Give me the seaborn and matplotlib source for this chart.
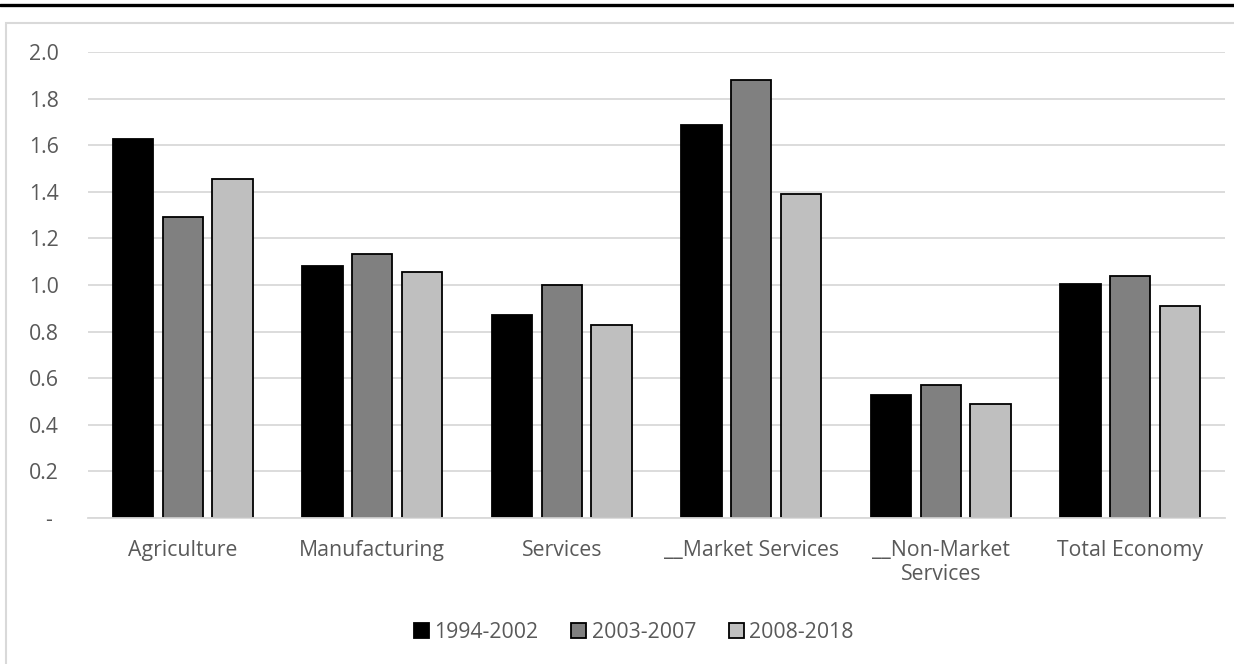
import matplotlib
matplotlib.use("Agg")
import matplotlib.pyplot as plt
from matplotlib.patches import Rectangle
from matplotlib.lines import Line2D
import seaborn as sns
import pandas as pd

# Sectors on the x axis
sectors = ["Agriculture", "Manufacturing", "Services", "__Market Services",
           "__Non-Market\nServices", "Total Economy"]
periods = ["1994-2002", "2003-2007", "2008-2018"]

# Values per period
v_1994_2002 = [1.627, 1.081, 0.873, 1.687, 0.530, 1.003]
v_2003_2007 = [1.290, 1.135, 0.998, 1.880, 0.569, 1.038]
v_2008_2018 = [1.457, 1.055, 0.830, 1.390, 0.489, 0.908]

y_ticks = [0.0, 0.2, 0.4, 0.6, 0.8, 1.0, 1.2, 1.4, 1.6, 1.8, 2.0]
y_tick_labels = ["- ", "0.2", "0.4", "0.6", "0.8", "1.0", "1.2", "1.4", "1.6", "1.8", "2.0"]

colors = ["#000000", "#808080", "#BFBFBF"]

df = pd.DataFrame({
    "sector": sectors * 3,
    "period": [periods[0]] * 6 + [periods[1]] * 6 + [periods[2]] * 6,
    "value": v_1994_2002 + v_2003_2007 + v_2008_2018,
})

sns.set_theme(style="white")
plt.rcParams["font.family"] = ["Open Sans", "DejaVu Sans"]
text_color = "#595959"
fs = 15.3

fig = plt.figure(figsize=(12.34, 6.64), dpi=100)
W, H = 1234, 664

# Thick rule along the top and the light chart frame
fig.add_artist(Line2D([0, 1], [1 - 5 / H, 1 - 5 / H], color="black", lw=2.4,
                      transform=fig.transFigure))
fig.add_artist(Rectangle((5.5 / W, -0.05), 1.2, 1 - 22.5 / H + 0.05,
                         transform=fig.transFigure, fill=False,
                         edgecolor="#D9D9D9", lw=1.5))

ax = fig.add_axes([88 / W, 1 - 518 / H, (1225 - 88) / W, (518 - 52) / H])

sns.barplot(data=df, x="sector", y="value", hue="period", order=sectors,
            hue_order=periods, palette=colors, width=0.786, gap=0.185,
            edgecolor="black", linewidth=1.3, saturation=1, ax=ax,
            legend=False)

ax.set_ylim(0, 2.0)
ax.set_xlim(-0.5, len(sectors) - 0.5)
ax.set_yticks(y_ticks)
ax.set_yticklabels(y_tick_labels)
ax.yaxis.grid(True, color="#D9D9D9", lw=1.3)
ax.set_axisbelow(True)
for s in ["top", "right", "left"]:
    ax.spines[s].set_visible(False)
ax.spines["bottom"].set_color("#D9D9D9")
ax.spines["bottom"].set_linewidth(1.3)
ax.set_xlabel("")
ax.set_ylabel("")
ax.tick_params(axis="both", length=0, labelsize=fs, colors=text_color)
ax.tick_params(axis="y", pad=21)
ax.tick_params(axis="x", pad=16)
for lbl in ax.get_yticklabels():
    lbl.set_horizontalalignment("right")
for lbl in ax.get_xticklabels():
    lbl.set_linespacing(1.2)

handles = [Rectangle((0, 0), 1, 1, facecolor=c, edgecolor="black", lw=1.3)
           for c in colors]
fig.legend(handles, periods, loc="center", bbox_to_anchor=(634 / W, 1 - 632 / H),
           ncol=3, frameon=False, fontsize=fs, labelcolor=text_color,
           handlelength=0.7, handleheight=0.7, handletextpad=0.25,
           columnspacing=1.56)

fig.savefig("out.png", dpi=100)
